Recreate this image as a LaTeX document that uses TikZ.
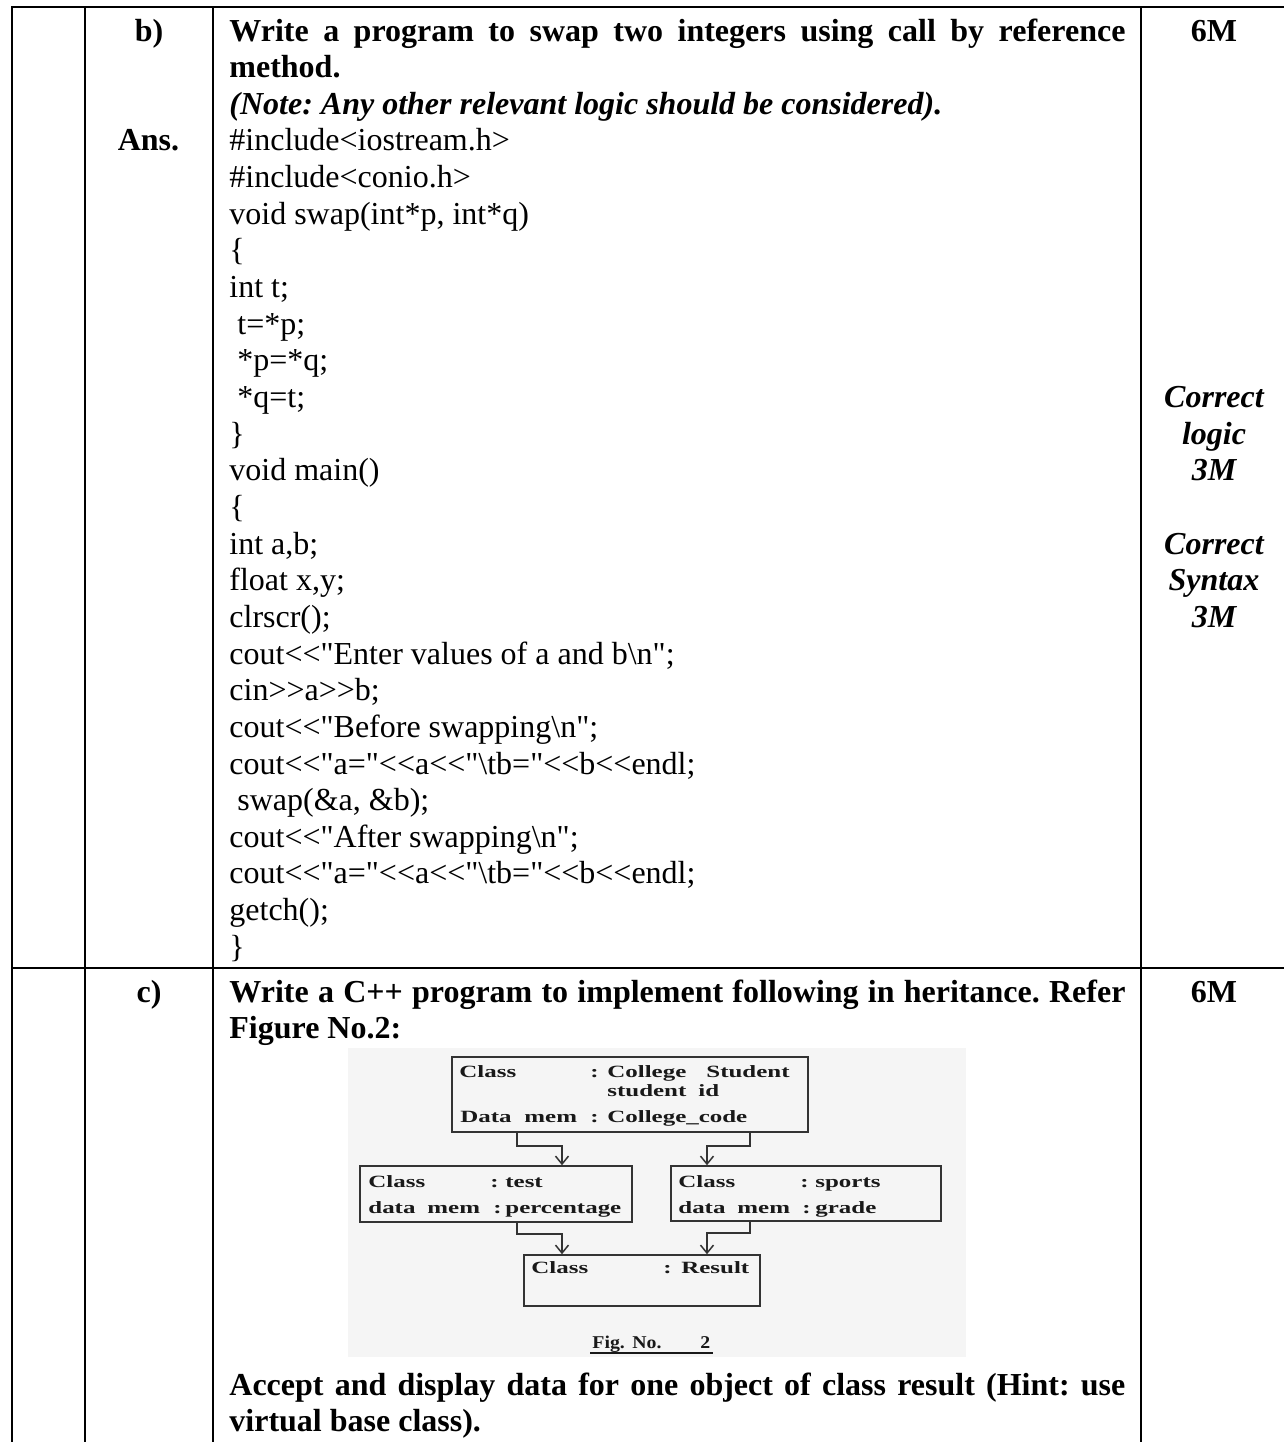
\documentclass[tikz,border=0pt]{standalone}
\usepackage{fontspec}
\newfontfamily\txtfont{Liberation Serif}
\newfontfamily\figfont[FakeStretch=1.45]{Liberation Serif}
\newfontfamily\capfont[FakeStretch=1.1]{Liberation Serif}
\usetikzlibrary{arrows.meta}
\frenchspacing
\begin{document}
\frenchspacing
\begin{tikzpicture}[x=0.5pt,y=-0.5pt,
  tbl/.style={line width=1.4pt, line cap=rect},
  codeline/.style={anchor=base west, inner sep=0, font=\txtfont\frenchspacing\fontsize{16}{18}\selectfont},
  head/.style={anchor=base west, inner sep=0, font=\txtfont\frenchspacing\bfseries\fontsize{16}{18}\selectfont},
  headit/.style={anchor=base west, inner sep=0, font=\txtfont\frenchspacing\bfseries\itshape\fontsize{16}{18}\selectfont},
  ctr/.style={anchor=base, inner sep=0, font=\txtfont\bfseries\fontsize{16}{18}\selectfont},
  mk/.style={anchor=base, inner sep=0, font=\txtfont\bfseries\itshape\fontsize{16}{18}\selectfont},
  box/.style={draw=black!80, line width=0.75pt, inner sep=0, rectangle},
  figt/.style={anchor=base west, inner sep=0, font=\figfont\bfseries\fontsize{8.6}{10}\selectfont, text=black!90},
  capt/.style={anchor=base west, inner sep=0, font=\capfont\bfseries\fontsize{9}{10}\selectfont, text=black!90},
  arr/.style={draw=black!80, line width=0.75pt, -{Straight Barb[length=4pt,width=6.5pt]}}
]
\useasboundingbox (0,0) rectangle (1284,1442);
\fill[white] (0,0) rectangle (1284,1442);

% table rules
\draw[tbl] (12,1450) -- (12,7) -- (1290,7);
\draw[tbl] (85,7) -- (85,1450);
\draw[tbl] (213,7) -- (213,1450);
\draw[tbl] (1141,7) -- (1141,1450);
\draw[tbl] (12,968) -- (1290,968);

% section b)
\node[ctr] (lb) at (149,41) {b)};
\node[ctr] (ans) at (148.5,150.95) {Ans.};
\node[ctr] (m6a) at (1214,41) {6M};
\node[head] (q1) at (229,41) {\makebox[448pt][s]{Write a program to swap two integers using call by reference}};
\node[head] (q2) at (229,77.65) {method.};
\node[headit] (q3) at (229,114.3) {(Note: Any other relevant logic should be considered).};

\foreach \codetext [count=\i from 3] in {
  {\#include<iostream.h>},
  {\#include<conio.h>},
  {void swap(int*p, int*q)},
  {\{},
  {int t;},
  {\hspace*{4pt}t=*p;},
  {\hspace*{4pt}*p=*q;},
  {\hspace*{4pt}*q=t;},
  {\}},
  {void main()},
  {\{},
  {int a,b;},
  {float x,y;},
  {clrscr();},
  {cout<<"Enter values of a and b\textbackslash n";},
  {cin>>a>>b;},
  {cout<<"Before swapping\textbackslash n";},
  {cout<<"a="<<a<<"\textbackslash tb="<<b<<endl;},
  {\hspace*{4pt}swap(\&a, \&b);},
  {cout<<"After swapping\textbackslash n";},
  {cout<<"a="<<a<<"\textbackslash tb="<<b<<endl;},
  {getch();},
  {\}}
}{
  \node[codeline] (code\i) at (229,41+36.65*\i) {\codetext};
}

\node[mk] (cl1) at (1214,407.5) {Correct};
\node[mk] (cl2) at (1214,444.15) {logic};
\node[mk] (cl3) at (1214,480.8) {3M};
\node[mk] (cs1) at (1214,554.1) {Correct};
\node[mk] (cs2) at (1214,590.75) {Syntax};
\node[mk] (cs3) at (1214,627.4) {3M};

% section c)
\node[ctr] (lc) at (149,1002) {c)};
\node[ctr] (m6b) at (1214,1002) {6M};
\node[head] (r1) at (229,1002) {\makebox[448pt][s]{Write a C++ program to implement following in heritance. Refer}};
\node[head] (r2) at (229,1038.65) {Figure No.2:};
\node[head] (r3) at (229,1395) {\makebox[448pt][s]{Accept and display data for one object of class result (Hint: use}};
\node[head] (r4) at (229,1431.65) {virtual base class).};

% figure
\fill[black!4] (348,1048) rectangle (966,1357);
\node[box, minimum width=178pt, minimum height=37.5pt] (top) at (630,1094.5) {};
\node[box, minimum width=136pt, minimum height=28pt] (left) at (496,1194) {};
\node[box, minimum width=135pt, minimum height=27.5pt] (right) at (806,1193.5) {};
\node[box, minimum width=118pt, minimum height=25.5pt] (bot) at (642,1280.5) {};

\coordinate (xa) at (517,0);
\coordinate (xb) at (562,0);
\coordinate (xc) at (750,0);
\coordinate (xd) at (707,0);
\draw[arr] (top.south -| xa) -- ++(0,13) -| (left.north -| xb);
\draw[arr] (top.south -| xc) -- ++(0,13) -| (right.north -| xd);
\draw[arr] (left.south -| xa) -- ++(0,11) -| (bot.north -| xb);
\draw[arr] (right.south -| xc) -- ++(0,11) -| (bot.north -| xd);

\node[figt] (t1) at (459,1077) {Class};
\node[figt] (t2) at (590,1077) {:};
\node[figt] (t3) at (607,1077) {College};
\node[figt] (t4) at (706,1077) {Student};
\node[figt] (t5) at (607,1096) {student};
\node[figt] (t6) at (698,1096) {id};
\node[figt] (t7) at (460,1122) {Data};
\node[figt] (t8) at (524,1122) {mem};
\node[figt] (t9) at (590,1122) {:};
\node[figt] (t10) at (607,1122) {College\_code};

\node[figt] (l1) at (368,1187) {Class};
\node[figt] (l2) at (490,1187) {:};
\node[figt] (l3) at (505,1187) {test};
\node[figt] (l4) at (368,1213) {data};
\node[figt] (l5) at (427,1213) {mem};
\node[figt] (l6) at (493,1213) {:};
\node[figt] (l7) at (505,1213) {percentage};

\node[figt] (g1) at (678,1187) {Class};
\node[figt] (g2) at (800,1187) {:};
\node[figt] (g3) at (815,1187) {sports};
\node[figt] (g4) at (678,1213) {data};
\node[figt] (g5) at (737,1213) {mem};
\node[figt] (g6) at (802,1213) {:};
\node[figt] (g7) at (815,1213) {grade};

\node[figt] (b1) at (531,1273) {Class};
\node[figt] (b2) at (663,1273) {:};
\node[figt] (b3) at (681,1273) {Result};

\node[capt] (fg1) at (592,1348) {Fig.};
\node[capt] (fg2) at (632,1348) {No.};
\node[capt] (fg3) at (700,1348) {2};
\draw[black!90, line width=0.8pt] (fg1.base west) ++(-2,5) -- ([shift={(2,5)}]fg3.base east);
\end{tikzpicture}
\end{document}
